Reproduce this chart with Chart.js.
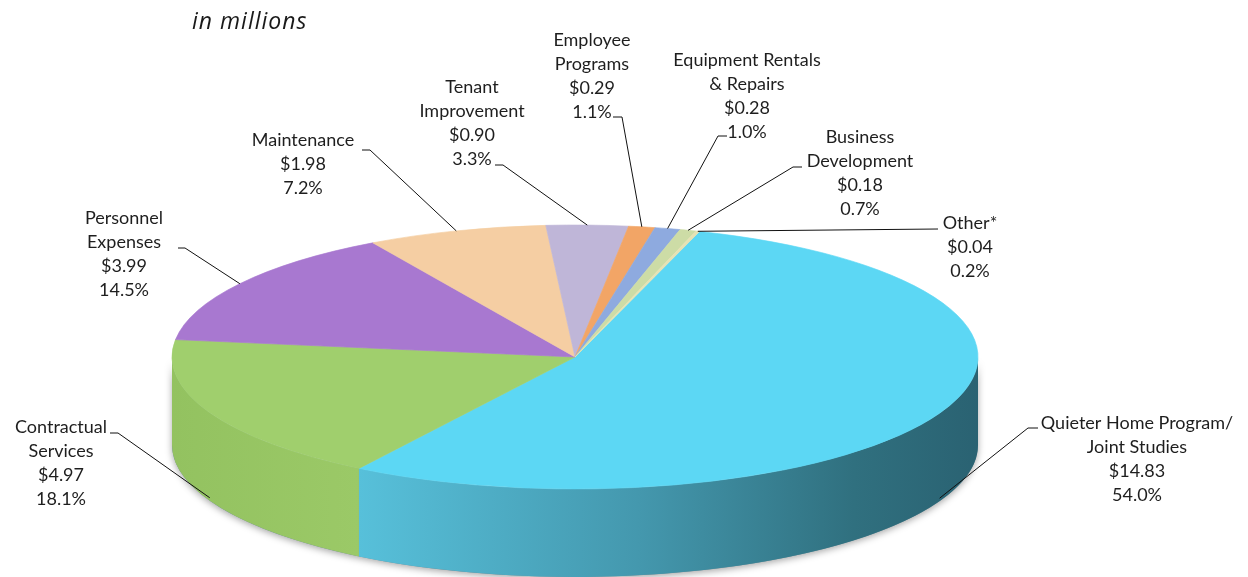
<!DOCTYPE html>
<html>
<head>
<meta charset="utf-8">
<script src="https://cdn.jsdelivr.net/npm/chart.js@4/dist/chart.umd.min.js"></script>
<style>
  html, body { margin: 0; padding: 0; background: #ffffff; }
  #wrap { width: 1248px; height: 577px; position: relative; }
</style>
</head>
<body>
<div id="wrap"><canvas id="budget"></canvas></div>
<script>
// Expense categories (line breaks mark label wrapping)
const categories = [
  'Quieter Home Program/\nJoint Studies',
  'Contractual\nServices',
  'Personnel\nExpenses',
  'Maintenance',
  'Tenant\nImprovement',
  'Employee\nPrograms',
  'Equipment Rentals\n& Repairs',
  'Business\nDevelopment',
  'Other*'
];
// Amounts, $ millions
const amounts = [14.83, 4.97, 3.99, 1.98, 0.90, 0.29, 0.28, 0.18, 0.04];
// Share of total as printed on each label
const shareLabels = ['54.0%', '18.1%', '14.5%', '7.2%', '3.3%', '1.1%', '1.0%', '0.7%', '0.2%'];

// Slice colours (top face)
const topColors = ['#5cd7f4', '#a0cf6d', '#a878d0', '#f5cea3', '#bfb6d8', '#f2a566', '#8eaadf', '#cddca6', '#e6e2b4'];
// Side-wall shading: [left stop, right stop]
const wallColors = [
  ['#57c0da', '#2a6272'], ['#93c260', '#9bc967'], ['#9468bb', '#9468bb'], ['#dcb58c', '#dcb58c'],
  ['#a89fc2', '#a89fc2'], ['#d98e52', '#d98e52'], ['#7892c4', '#7892c4'], ['#b6c68f', '#b6c68f'], ['#cfcb9c', '#cfcb9c']
];

// Label placement: centre x, first line centre y, leader elbow points
const labelLayout = [
  { x: 1137, y: 423, leader: [[1028, 428], [1038, 428]] },
  { x: 61,   y: 427, leader: [[118, 433], [110, 433]] },
  { x: 124,  y: 218, leader: [[185, 248], [178, 248]] },
  { x: 303,  y: 140, leader: [[370, 150], [362, 150]] },
  { x: 472,  y: 87,  leader: [[503, 165], [495, 165]] },
  { x: 592,  y: 40,  leader: [[622, 117], [613, 117]] },
  { x: 747,  y: 60,  leader: [[718, 136], [727, 136]] },
  { x: 860,  y: 137, leader: [[793, 167], [802, 167]] },
  { x: 970,  y: 223, leader: [[938, 229]] }
];

const TILT = 0.3275;      // vertical squash of the pie disc
const DEPTH = 88;         // thickness of the disc, px
const LABEL_FONT = '18px Lato, "Open Sans", sans-serif';
const LINE_H = 24;
const TEXT_COLOR = '#1e1e1e';

function wallPath(ctx, cx, cy, a, b, d, t1, t2) {
  ctx.beginPath();
  ctx.ellipse(cx, cy, a, b, 0, t1, t2, false);
  ctx.ellipse(cx, cy + d, a, b, 0, t2, t1, true);
  ctx.closePath();
}

// Portion of [s, e] that faces the viewer (canvas angles 0..PI, mod 2PI)
function frontSpan(s, e) {
  const out = [];
  for (let k = -1; k <= 1; k++) {
    const lo = Math.max(s, k * 2 * Math.PI), hi = Math.min(e, k * 2 * Math.PI + Math.PI);
    if (hi > lo) out.push([lo, hi]);
  }
  return out;
}

const pie3d = {
  id: 'pie3d',
  beforeDatasetsDraw(chart) {
    const ctx = chart.ctx;
    const arcs = chart.getDatasetMeta(0).data;
    const cx = arcs[0].x, cy = arcs[0].y, a = arcs[0].outerRadius, b = a * TILT;

    // soft shadow around the base
    ctx.save();
    ctx.shadowColor = 'rgba(0,0,0,0.35)';
    ctx.shadowBlur = 7;
    ctx.shadowOffsetY = 2;
    ctx.fillStyle = '#6a8f9a';
    wallPath(ctx, cx, cy, a, b, DEPTH, 0, Math.PI);
    ctx.fill();
    ctx.restore();

    // side walls of the front-facing slices
    arcs.forEach((arc, i) => {
      frontSpan(arc.startAngle, arc.endAngle).forEach(([t1, t2]) => {
        const x1 = cx + a * Math.cos(t2), x2 = cx + a * Math.cos(t1);
        const g = ctx.createLinearGradient(Math.min(x1, x2), 0, Math.max(x1, x2), 0);
        g.addColorStop(0, wallColors[i][0]);
        if (i === 0) {
          g.addColorStop(0.45, '#4498ae');
          g.addColorStop(0.8, '#30707f');
        }
        g.addColorStop(1, wallColors[i][1]);
        ctx.save();
        ctx.fillStyle = g;
        wallPath(ctx, cx, cy, a, b, DEPTH, t1, t2);
        ctx.fill();
        ctx.restore();
      });
    });

    // flatten the disc for the slice tops
    ctx.save();
    ctx.translate(cx, cy);
    ctx.scale(1, TILT);
    ctx.translate(-cx, -cy);
  },
  afterDatasetsDraw(chart) {
    const ctx = chart.ctx;
    ctx.restore();

    const arcs = chart.getDatasetMeta(0).data;
    const cx = arcs[0].x, cy = arcs[0].y, a = arcs[0].outerRadius, b = a * TILT;

    ctx.save();
    // leader lines
    ctx.strokeStyle = '#111111';
    ctx.lineWidth = 1;
    arcs.forEach((arc, i) => {
      const mid = (arc.startAngle + arc.endAngle) / 2;
      let px = cx + a * Math.cos(mid);
      let py = cy + b * Math.sin(mid);
      if (Math.sin(mid) > 0) py += DEPTH - 3;
      ctx.beginPath();
      ctx.moveTo(px, py);
      labelLayout[i].leader.forEach(([lx, ly]) => ctx.lineTo(lx, ly));
      ctx.stroke();
    });

    // labels: category, amount, share
    ctx.fillStyle = TEXT_COLOR;
    ctx.font = LABEL_FONT;
    ctx.textAlign = 'center';
    ctx.textBaseline = 'middle';
    categories.forEach((name, i) => {
      const lines = name.split('\n').concat(['$' + amounts[i].toFixed(2), shareLabels[i]]);
      lines.forEach((t, j) => ctx.fillText(t, labelLayout[i].x, labelLayout[i].y + j * LINE_H));
    });

    // units note
    ctx.font = 'italic 23px "Open Sans", sans-serif';
    ctx.letterSpacing = '1px';
    ctx.textAlign = 'left';
    ctx.fillStyle = '#1a1a1a';
    ctx.fillText('in millions', 192, 22);
    ctx.restore();
  }
};

new Chart(document.getElementById('budget'), {
  type: 'pie',
  data: {
    labels: categories,
    datasets: [{
      data: amounts,
      backgroundColor: topColors,
      borderColor: topColors,
      borderWidth: 1,
      radius: 403,
      clip: false
    }]
  },
  options: {
    responsive: true,
    maintainAspectRatio: false,
    animation: false,
    events: [],
    rotation: 18,
    layout: { padding: { left: 0, right: 98, top: 137, bottom: 0 } },
    plugins: {
      legend: { display: false },
      tooltip: { enabled: false },
      title: { display: false }
    }
  },
  plugins: [pie3d]
});
</script>
</body>
</html>
